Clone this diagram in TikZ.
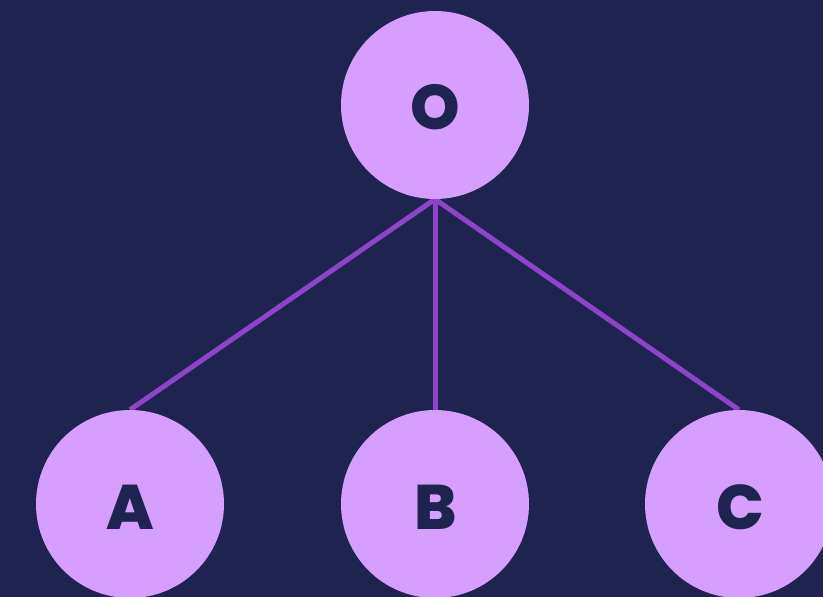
\documentclass[tikz,border=0pt]{standalone}
\usepackage{fontspec}
\usetikzlibrary{backgrounds}
\IfFontExistsTF{Poppins ExtraBold}{%
  \newfontfamily\nodefont{Poppins ExtraBold}}{%
  \newfontfamily\nodefont{Poppins}[FakeBold=1.5]}
\definecolor{bg}{HTML}{1E2350}
\definecolor{node}{HTML}{D69EFE}
\definecolor{edge}{HTML}{8E44C8}
\begin{document}
\begin{tikzpicture}[x=1pt,y=-1pt,
  circ/.style={circle,fill=node,minimum size=188pt,inner sep=0pt,text=bg,
    font=\fontsize{63}{63}\nodefont\selectfont},
  lbl/.style={text=bg,font=\fontsize{63}{63}\nodefont\selectfont,inner sep=0pt},
  link/.style={draw=edge,line width=5pt}]
\useasboundingbox (0,0) rectangle (823,597);
\node[circ] (O) at (435,105) {};
\node[circ] (A) at (130,504) {};
\node[circ] (B) at (435,504) {};
\node[circ] (C) at (739,504) {};
\node[lbl] (tO) at (435,107) {O};
\node[lbl] (tA) at (130,507) {A};
\node[lbl] (tB) at (436,507) {B};
\node[lbl] (tC) at (740,507) {C};
\begin{scope}[on background layer]
\fill[bg] (0,0) rectangle (823,597);
\draw[link] (O.south) -- (A.north);
\draw[link] (O.south) -- (B.north);
\draw[link] (O.south) -- (C.north);
\end{scope}
\end{tikzpicture}
\end{document}
